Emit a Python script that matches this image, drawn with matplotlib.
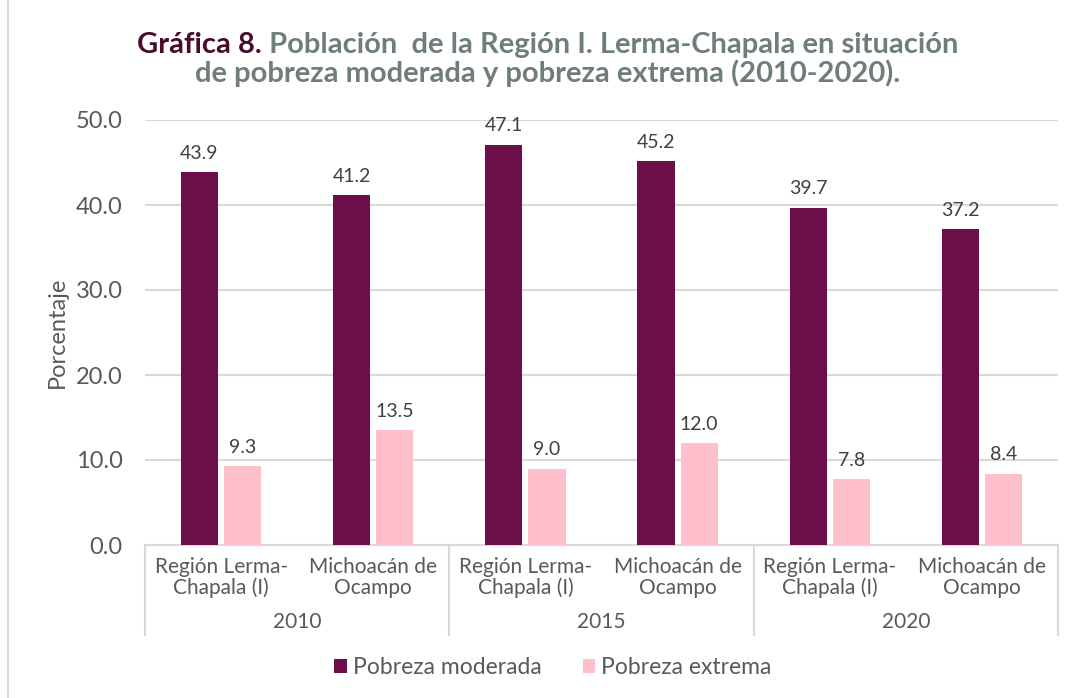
import matplotlib.pyplot as plt
import numpy as np
from matplotlib.patches import Patch
from matplotlib.lines import Line2D

# ── Data ───────────────────────────────────────────────────────────────────
years = ["2010", "2015", "2020"]
places = ["Región Lerma-\nChapala (I)", "Michoacán de\nOcampo"]
moderada = [43.9, 41.2, 47.1, 45.2, 39.7, 37.2]
extrema = [9.3, 13.5, 9.0, 12.0, 7.8, 8.4]
series_labels = ["Pobreza moderada", "Pobreza extrema"]
yticks = [0, 10, 20, 30, 40, 50]

DARK = "#6A0F48"
PINK = "#FFC0CB"
TXT = "#595959"
GRID = "#D9D9D9"

plt.rcParams["font.family"] = ["Lato", "DejaVu Sans"]

W, H = 1076, 698
fig = plt.figure(figsize=(W / 100, H / 100), dpi=100)
fig.patch.set_facecolor("white")


def fx(px):
    return px / W


def fy(py):
    return 1 - py / H


ax = fig.add_axes([fx(145), fy(545), fx(1058) - fx(145), fy(120) - fy(545)])
n = len(moderada)
x = np.arange(n)
bw = 0.245
off = 0.142
ax.bar(x - off, moderada, bw, color=DARK, zorder=3)
ax.bar(x + off, extrema, bw, color=PINK, zorder=3)

for xi, v in zip(x, moderada):
    ax.text(xi - off, v + 1.2, f"{v:.1f}", ha="center", va="bottom",
            fontsize=14, color="#404040")
for xi, v in zip(x, extrema):
    ax.text(xi + off, v + 1.2, f"{v:.1f}", ha="center", va="bottom",
            fontsize=14, color="#404040")

ax.set_xlim(-0.5, n - 0.5)
ax.set_ylim(0, 50)
ax.set_yticks(yticks)
ax.set_yticklabels([f"{t:.1f}" for t in yticks], fontsize=17, color=TXT)
ax.tick_params(axis="y", length=0, pad=16)
ax.set_xticks([])
ax.grid(axis="y", color=GRID, linewidth=1.5, zorder=0)
for s in ["top", "right", "left"]:
    ax.spines[s].set_visible(False)
ax.spines["bottom"].set_color(GRID)
ax.spines["bottom"].set_linewidth(1.5)
ax.set_ylabel("Porcentaje", fontsize=17, color=TXT, labelpad=6)

# category labels + year groups
trans = ax.get_xaxis_transform()
for i in range(n):
    ax.text(i, -0.028, places[i % 2], transform=trans, ha="center", va="top",
            fontsize=15, color=TXT, linespacing=1.05)
for g, yr in enumerate(years):
    ax.text(2 * g + 0.5, -0.158, yr, transform=trans, ha="center", va="top",
            fontsize=15, color=TXT)
for b in [-0.5, 1.5, 3.5, 5.5]:
    ax.add_line(Line2D([b, b], [0, -0.212], transform=trans, color=GRID,
                       linewidth=1.5, clip_on=False))

# legend
handles = [Patch(facecolor=DARK), Patch(facecolor=PINK)]
fig.legend(handles, series_labels, loc="center", bbox_to_anchor=(fx(553), fy(668)),
           ncol=2, frameon=False, fontsize=16.5, labelcolor=TXT,
           handlelength=0.55, handleheight=0.55, handletextpad=0.25, columnspacing=1.8)

# outer frame (left edge visible)
fig.add_artist(Line2D([fx(8), fx(8)], [0, 1], color=GRID, linewidth=1.5))

# title: two-colour first line, centered as a whole
t1 = fig.text(0, fy(45), "Gráfica 8.", fontsize=21, fontweight="bold",
              color="#4A0A2C", ha="left", va="center")
t2 = fig.text(0, fy(45), " Población  de la Región I. Lerma-Chapala en situación",
              fontsize=21, fontweight="bold", color="#6E7E7B", ha="left", va="center")
fig.canvas.draw()
r = fig.canvas.get_renderer()
w1 = t1.get_window_extent(r).width
w2 = t2.get_window_extent(r).width
start = 548 - (w1 + w2) / 2
t1.set_x(fx(start))
t2.set_x(fx(start + w1))
fig.text(fx(548), fy(73), "de pobreza moderada y pobreza extrema (2010-2020).",
         fontsize=21, fontweight="bold", color="#6E7E7B", ha="center", va="center")

fig.savefig("out.png", dpi=100, facecolor="white")
